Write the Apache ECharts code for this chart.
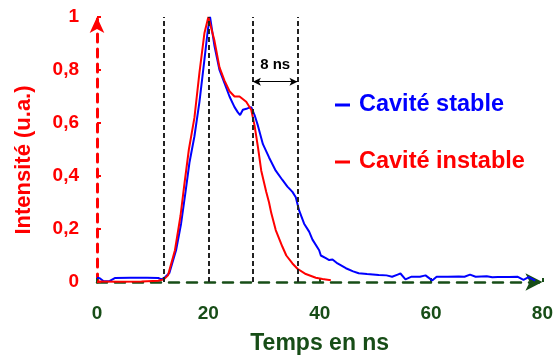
<!DOCTYPE html>
<html><head><meta charset="utf-8">
<script src="https://cdn.jsdelivr.net/npm/echarts@6/dist/echarts.min.js"></script>
<style>html,body{margin:0;padding:0;background:#fff}#c{width:556px;height:363px}</style>
</head><body><div id="c"></div>
<script>
// Data (time in ns, intensity in a.u.)
const stableData = [
 [0,0.016],[0.5,0.014],[1.2,0.003],[2.3,0.004],[3.2,0.015],[6,0.016],[9,0.016],[11,0.015],[11.6,0.01],
 [12.2,0.018],[13,0.034],[14.2,0.12],[15.1,0.22],[15.9,0.34],[16.6,0.45],[17.5,0.55],[18.4,0.68],
 [19.3,0.84],[19.9,0.95],[20.3,1.0],[21.1,0.89],[22,0.8],[22.9,0.75],[23.8,0.70],[24.7,0.66],
 [25.3,0.64],[25.7,0.63],[26.2,0.65],[27,0.655],[27.7,0.66],[28.3,0.63],[28.9,0.59],[29.8,0.52],
 [30.9,0.47],[32.1,0.42],[33.3,0.385],[34.2,0.36],[35.1,0.34],[35.7,0.32],[36.3,0.27],[37.2,0.22],
 [38.1,0.19],[38.7,0.16],[39.9,0.12],[40.2,0.10],[41.1,0.09],[41.7,0.083],[42.3,0.085],[43.2,0.07],
 [44.7,0.052],[46,0.04],[47,0.033],[48.5,0.03],[50.6,0.026],[52,0.025],[53,0.02],[54,0.028],
 [54.5,0.032],[55.4,0.01],[56.5,0.02],[58,0.02],[59,0.025],[60.2,0.006],[61,0.02],[63,0.02],
 [65,0.021],[66,0.02],[67,0.028],[68,0.02],[70,0.022],[71,0.018],[72,0.019],[74,0.019],[75.5,0.02],
 [76.6,0.008],[77.5,0.018],[78.7,0.005]
];
const unstableData = [
 [0,0.002],[4,0.001],[8,0.002],[11,0.005],[12,0.01],[12.75,0.025],[14,0.12],[15,0.25],[15.7,0.37],
 [16.5,0.5],[17.5,0.62],[18.4,0.79],[19.3,0.94],[20,1.0],[21.1,0.91],[22,0.81],[22.9,0.76],[23.8,0.72],
 [24.7,0.70],[25.6,0.70],[26.8,0.68],[27.7,0.65],[28.3,0.59],[28.9,0.51],[29.5,0.42],[30.4,0.34],
 [30.9,0.30],[31.3,0.26],[32.1,0.196],[33.3,0.133],[34,0.1],[35.1,0.07],[36,0.05],[37.5,0.03],
 [39.3,0.016],[40.5,0.011],[42,0.007]
];
const seriesNames = ['Cavité stable', 'Cavité instable'];
const markerTimes = [12, 20, 28, 36];
const spanStart = 28, spanEnd = 36, spanLevel = 0.756, spanLabel = '8 ns';
const xTicks = {min: 0, max: 80, interval: 20};
const yTicks = {min: 0, max: 1, interval: 0.2};
const xName = 'Temps en ns', yName = 'Intensité (u.a.)';

const FONT = 'Liberation Sans, Arial, sans-serif';
const GREEN = '#174d17', RED = '#ff0000', BLUE = '#0000ff';
const chart = echarts.init(document.getElementById('c'));
chart.setOption({
  animation: false,
  grid: {left: 97, right: 12, top: 17, bottom: 81, containLabel: false},
  legend: {
    orient: 'vertical', left: 330, top: 88, itemGap: 33,
    itemWidth: 15, itemHeight: 3, icon: 'rect',
    textStyle: {fontFamily: FONT, fontSize: 23.5, fontWeight: 'bold', padding: [0,0,0,4]},
    data: [
      {name: seriesNames[0], textStyle: {color: BLUE}},
      {name: seriesNames[1], textStyle: {color: RED}}
    ]
  },
  graphic: [{
    type: 'text', x: 24, y: 160, rotation: Math.PI / 2, silent: true,
    style: {text: yName, fill: RED, font: 'bold 22px ' + FONT, textAlign: 'center', textVerticalAlign: 'middle'}
  }],
  xAxis: {
    type: 'value', min: xTicks.min, max: xTicks.max, interval: xTicks.interval,
    splitLine: {show: false},
    axisLine: {show: true, symbol: ['none','arrow'], symbolSize: [13,17],
      lineStyle: {color: GREEN, width: 2.5, type: [10,8]}},
    axisTick: {show: true, inside: true, length: 4, lineStyle: {color: GREEN, width: 2}},
    axisLabel: {color: GREEN, fontFamily: FONT, fontSize: 19, fontWeight: 'bold', margin: 22},
    name: xName, nameLocation: 'middle', nameGap: 50,
    nameTextStyle: {color: GREEN, fontFamily: FONT, fontSize: 23, fontWeight: 'bold'}
  },
  yAxis: {
    type: 'value', min: yTicks.min, max: yTicks.max, interval: yTicks.interval,
    splitLine: {show: false},
    axisLine: {show: true, symbol: ['none','arrow'], symbolSize: [11,16],
      lineStyle: {color: RED, width: 3, type: [8,7]}},
    axisTick: {show: true, inside: true, length: 4, lineStyle: {color: RED, width: 2}},
    axisLabel: {color: RED, fontFamily: FONT, fontSize: 19, fontWeight: 'bold', margin: 18,
      formatter: v => String(+v.toFixed(1)).replace('.', ',')}
  },
  series: [
    {
      name: seriesNames[0], type: 'line', data: stableData, showSymbol: false, symbol: 'none',
      lineStyle: {color: BLUE, width: 2}, itemStyle: {color: BLUE}, z: 3,
      markLine: {
        silent: true, symbol: ['none','none'],
        lineStyle: {color: '#222', type: [5,3], width: 2},
        label: {show: false},
        data: markerTimes.map(t => ({xAxis: t}))
      }
    },
    {
      name: seriesNames[1], type: 'line', data: unstableData, showSymbol: false, symbol: 'none',
      lineStyle: {color: RED, width: 2}, itemStyle: {color: RED}, z: 4,
      markLine: {
        silent: true, symbol: ['arrow','arrow'], symbolSize: [6,8],
        lineStyle: {color: '#000', type: 'solid', width: 1.2},
        label: {show: true, position: 'middle', formatter: spanLabel, color: '#000',
          fontFamily: FONT, fontSize: 15, fontWeight: 'bold', distance: 9},
        data: [[{coord: [spanStart, spanLevel]}, {coord: [spanEnd, spanLevel]}]]
      }
    }
  ]
});
</script></body></html>
